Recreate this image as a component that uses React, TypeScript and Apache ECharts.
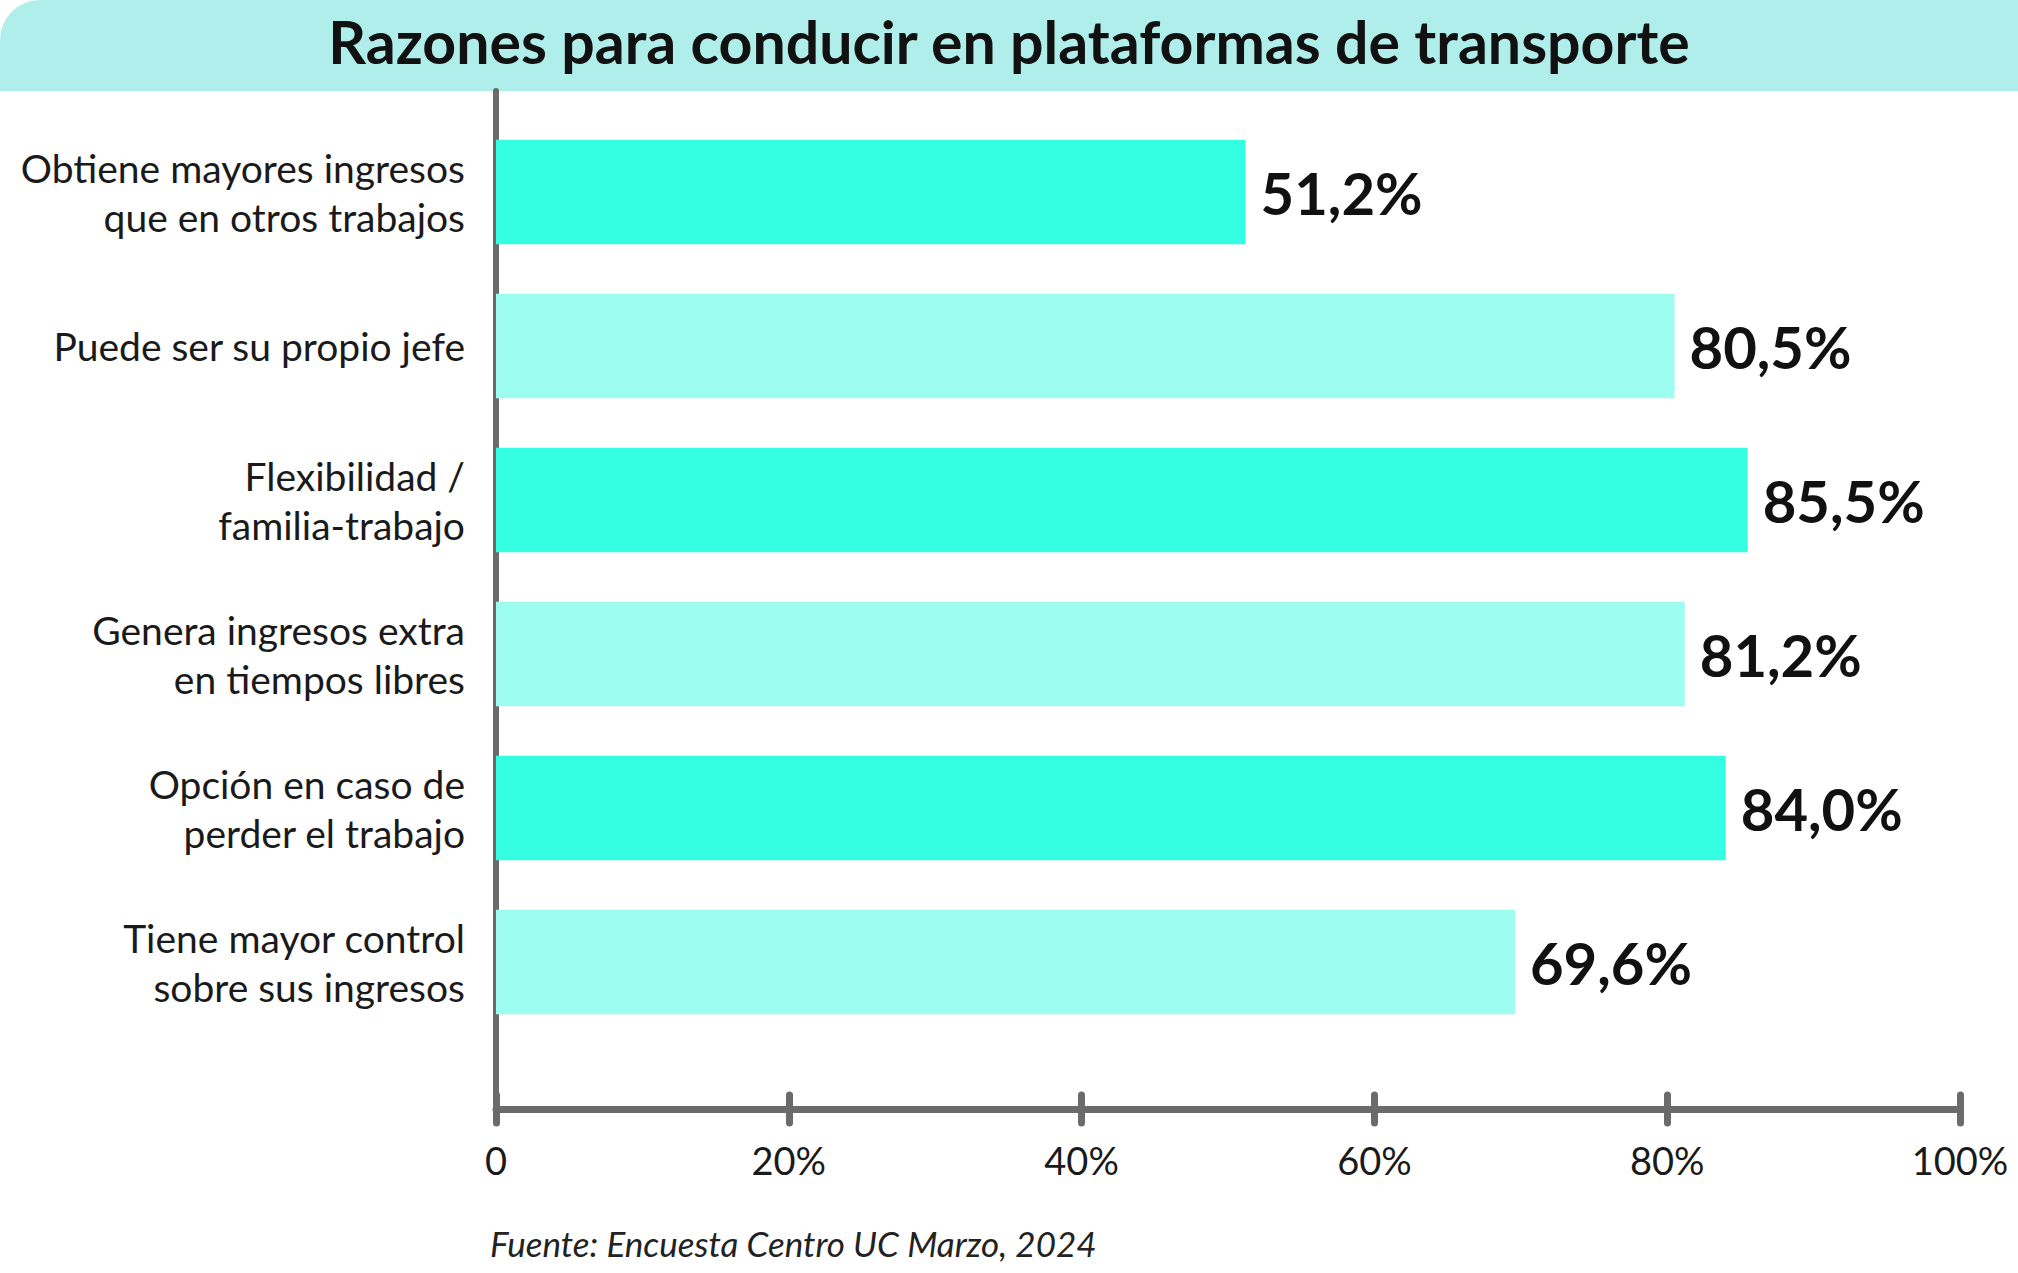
import React, { useEffect, useRef } from "react";
import * as echarts from "echarts";

// reasons, top to bottom
const categories = [
  "Obtiene mayores ingresos\nque en otros trabajos",
  "Puede ser su propio jefe",
  "Flexibilidad /\nfamilia-trabajo",
  "Genera ingresos extra\nen tiempos libres",
  "Opción en caso de\nperder el trabajo",
  "Tiene mayor control\nsobre sus ingresos",
];
const percentages = [51.2, 80.5, 85.5, 81.2, 84.0, 69.6];
const barColors = ["#34ffe3", "#9dfdf0"];
const axisTicks = [0, 20, 40, 60, 80, 100];

const titleText = "Razones para conducir en plataformas de transporte";
const sourceText = "Fuente: Encuesta Centro UC Marzo, 2024";

const FONT = "Lato, 'Open Sans', sans-serif";
const AXIS_GRAY = "#6b6b6b";

export default function App() {
  const chartRef = useRef<HTMLDivElement>(null);

  useEffect(() => {
    document.body.style.margin = "0";
    if (!chartRef.current) return;
    const chart = echarts.init(chartRef.current, undefined, { renderer: "svg" });

    const option = {
      animation: false,
      backgroundColor: "#ffffff",
      title: [
        {
          text: titleText,
          left: "center",
          top: 12,
          padding: 0,
          textStyle: { fontFamily: FONT, fontSize: 59, fontWeight: "bold", color: "#111111" },
        },
        {
          text: sourceText,
          left: 490,
          top: 1225,
          padding: 0,
          textStyle: { fontFamily: FONT, fontSize: 35, fontStyle: "italic", fontWeight: "normal", color: "#222222" },
        },
      ],
      graphic: [
        {
          type: "rect",
          z: -10,
          shape: { x: 0, y: 0, width: 2018, height: 91, r: [40, 0, 0, 0] },
          style: { fill: "#b0eeeb" },
        },
      ],
      grid: [
        // bars
        { left: 496, right: 58, top: 115, bottom: 234 },
        // axis frame
        { left: 496, right: 58, top: 91, bottom: 164 },
      ],
      xAxis: [
        { gridIndex: 0, type: "value", min: 0, max: 100, show: false },
        {
          gridIndex: 1,
          type: "value",
          min: 0,
          max: 100,
          interval: 20,
          axisLine: { show: true, lineStyle: { color: AXIS_GRAY, width: 7 } },
          axisTick: { show: true, length: 14, lineStyle: { color: AXIS_GRAY, width: 7, cap: "round" } },
          splitLine: { show: false },
          axisLabel: {
            margin: 32,
            fontFamily: FONT,
            fontSize: 38,
            color: "#1a1a1a",
            formatter: (v: number) => (v === 0 ? "0" : `${v}%`),
            customValues: axisTicks,
          },
        },
        {
          gridIndex: 1,
          type: "value",
          position: "bottom",
          min: 0,
          max: 100,
          interval: 20,
          axisLine: { show: false },
          axisTick: { show: true, inside: true, length: 14, lineStyle: { color: AXIS_GRAY, width: 7, cap: "round" } },
          axisLabel: { show: false },
          splitLine: { show: false },
        },
      ],
      yAxis: [
        {
          gridIndex: 0,
          type: "category",
          inverse: true,
          data: categories,
          axisLine: { show: false },
          axisTick: { show: false },
          axisLabel: {
            margin: 31,
            align: "right",
            fontFamily: FONT,
            fontSize: 39,
            lineHeight: 49,
            color: "#1a1a1a",
          },
        },
        {
          gridIndex: 1,
          type: "value",
          min: 0,
          max: 1,
          axisLine: { show: true, lineStyle: { color: AXIS_GRAY, width: 6 } },
          axisTick: { show: false },
          axisLabel: { show: false },
          splitLine: { show: false },
        },
      ],
      series: [
        {
          type: "bar",
          xAxisIndex: 0,
          yAxisIndex: 0,
          barWidth: "68%",
          z: 1,
          data: percentages.map((v, i) => ({
            value: v,
            itemStyle: { color: barColors[i % 2] },
          })),
          label: {
            show: true,
            position: "right",
            distance: 15,
            fontFamily: FONT,
            fontSize: 58,
            fontWeight: "bold",
            color: "#111111",
            formatter: (p: any) => `${Number(p.value).toFixed(1).replace(".", ",")}%`,
          },
        },
      ],
    };

    chart.setOption(option);
    const onResize = () => chart.resize();
    window.addEventListener("resize", onResize);
    return () => {
      window.removeEventListener("resize", onResize);
      chart.dispose();
    };
  }, []);

  return <div ref={chartRef} style={{ width: 2018, height: 1273 }} />;
}
